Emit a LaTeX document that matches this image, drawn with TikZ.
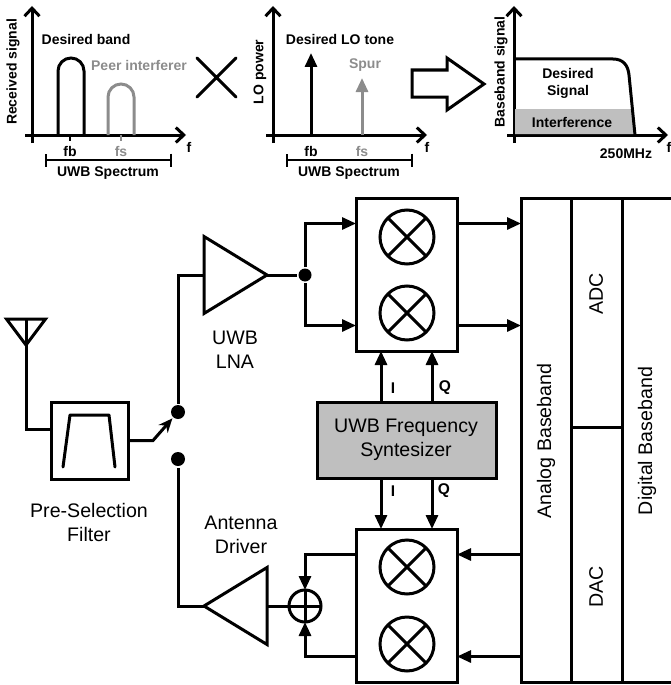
\documentclass[tikz,border=0pt]{standalone}
\usepackage{fontspec}
\setmainfont{Liberation Sans}
\usepackage{xcolor}
\usepackage{tikz}
\usetikzlibrary{shapes.geometric,arrows.meta,positioning,calc}
\definecolor{peergray}{RGB}{140,140,140}
\definecolor{boxgray}{RGB}{191,191,191}

\begin{document}
\begin{tikzpicture}[x=1pt,y=-1pt,line width=3pt,node distance=0pt]
  \tikzset{blocklabel/.style={font=\fontsize{19.6}{24}\selectfont,align=center,inner sep=0pt}}
  \tikzset{plotlabel/.style={font=\fontsize{14}{17}\selectfont\bfseries,align=center,inner sep=0pt}}
  \tikzset{iqlabel/.style={font=\fontsize{15.5}{17}\selectfont\bfseries,inner sep=0pt}}
  \tikzset{block/.style={draw,rectangle,outer sep=0pt,inner sep=0pt,minimum width=#1}}
  \tikzset{mixer/.style={draw,circle,outer sep=0pt,inner sep=0pt,minimum size=54pt}}
  \tikzset{amp/.style={draw,isosceles triangle,isosceles triangle stretches,outer sep=0pt,inner sep=0pt,minimum width=77pt,minimum height=63pt}}
  \tikzset{dot/.style={circle,fill=black,inner sep=0pt,minimum size=14pt}}
  \tikzset{sig/.style={-{Triangle[length=14pt,width=12pt]}}}
  \tikzset{axisline/.style={-{Straight Barb[length=8pt,width=15pt]}}}
  \useasboundingbox (0,0) rectangle (671,685);

  % spectra on top
  \foreach \ox/\ex in {32/186,273/427,514/668}{
    \draw[axisline] (\ox,143) -- (\ox,6);
    \draw[axisline] (\ox-7,135) -- (\ex,135);
  }
  \foreach \ox/\ex in {45/172,286/413}
    \draw[line width=2pt,{Bar[width=13pt]}-{Bar[width=13pt]}] (\ox,160) -- (\ex,160);
  \draw[line width=1.5pt] (70,135) -- (70,141);
  \draw[line width=1.5pt,peergray] (121,135) -- (121,141);
  \draw[rounded corners=13pt] (58,135) -- (58,58) -- (84,58) -- (84,135);
  \draw[rounded corners=13pt,peergray] (108,135) -- (108,84) -- (134,84) -- (134,135);
  \draw[line cap=round] (197,58) -- (236,97) (236,58) -- (197,97);
  \draw[sig] (311,135) -- (311,53);
  \draw[sig,peergray] (362,135) -- (362,78);
  \draw[miter limit=10] (412,70) -- (447,70) -- (447,58) -- (484,84) -- (447,110) -- (447,97) -- (412,97) -- cycle;
  \fill[boxgray] (515,109) -- (632,109) -- (635,134) -- (515,134) -- cycle;
  \draw (514,59) -- (613,59) .. controls (623,59) and (628,65) .. (629,75) -- (635,135);

  \node[plotlabel,rotate=90] (rxlabel) at (13,72) {Received signal};
  \node[plotlabel,rotate=90] (lolabel) at (260,72) {LO power};
  \node[plotlabel,rotate=90] (bblabel) at (501,72) {Baseband signal};
  \node[plotlabel] (bandlabel) at (86,39) {Desired band};
  \node[plotlabel,peergray] (peerlabel) at (139,65) {Peer interferer};
  \node[plotlabel] (tonelabel) at (340,39) {Desired LO tone};
  \node[plotlabel,peergray] (spurlabel) at (365,65) {Spur};
  \node[plotlabel] (fba) at (70,151) {fb};
  \node[plotlabel,peergray] (fsa) at (121,151) {fs};
  \node[plotlabel] (fbb) at (311,151) {fb};
  \node[plotlabel,peergray] (fsb) at (362,151) {fs};
  \node[plotlabel] (fa) at (189,147) {f};
  \node[plotlabel] (fb) at (427,147) {f};
  \node[plotlabel] (fc) at (669,147) {f};
  \node[plotlabel] (uwba) at (108,173) {UWB Spectrum};
  \node[plotlabel] (uwbb) at (349,173) {UWB Spectrum};
  \node[plotlabel] (wanted) at (568,83) {Desired\\Signal};
  \node[plotlabel] (interf) at (572,122) {Interference};
  \node[plotlabel] (bwlabel) at (626,154) {250MHz};

  % transceiver blocks
  \node[draw,isosceles triangle,isosceles triangle stretches,outer sep=0pt,inner sep=0pt,minimum width=39pt,minimum height=26pt,shape border rotate=-90,anchor=apex] (ant) at (26,345) {};
  \node[block=77pt,minimum height=77pt] (filter) at (89.5,440.5) {};
  \node[dot] (swup) at (178,412) {};
  \node[dot] (swdown) at (178,459) {};
  \coordinate (swbend) at (153,440.5);
  \node[amp,anchor=lower side] (lna) at (204,275) {};
  \node[dot,minimum size=13pt] (lnadot) at (305,275) {};
  \node[amp,shape border rotate=180,anchor=lower side] (driver) at (267,606) {};
  \node[draw,circle,outer sep=0pt,inner sep=0pt,minimum size=32pt] (adder) at (305,606) {};
  \node[block=101pt,minimum height=153pt] (upbox) at (406.5,274.5) {};
  \node[block=101pt,minimum height=153pt] (dnbox) at (406.5,605.5) {};
  \node[block=179pt,minimum height=76pt,fill=boxgray] (synth) at (406.5,440) {};
  \node[block=50pt,minimum height=484pt,anchor=north west] (analog) at (521,198) {};
  \node[block=51pt,minimum height=229pt,right=0pt of analog.north east,anchor=north west] (adc) {};
  \node[block=51pt,minimum height=255pt,below=0pt of adc] (dac) {};
  \node[minimum width=49pt,minimum height=484pt,inner sep=0pt,outer sep=0pt,right=0pt of adc.north east,anchor=north west] (digital) {};
  \draw (adc.north east) -- (digital.north east);
  \draw (dac.south east) -- (digital.south east);
  \foreach \mx/\py in {mixa/237,mixb/313,mixc/567,mixd/644}{
    \node[mixer] (\mx) at (407,\py) {};
    \draw (\mx.45) -- (\mx.225) (\mx.135) -- (\mx.315);
  }
  \draw (adder.north) -- (adder.south) (adder.west) -- (adder.east);

  \coordinate (upina) at ([yshift=51pt]upbox.west);
  \coordinate (upinb) at ([yshift=-51pt]upbox.west);
  \coordinate (upouta) at ([yshift=51pt]upbox.east);
  \coordinate (upoutb) at ([yshift=-51pt]upbox.east);
  \coordinate (dnina) at ([yshift=51pt]dnbox.east);
  \coordinate (dninb) at ([yshift=-51pt]dnbox.east);
  \coordinate (dnouta) at ([yshift=51pt]dnbox.west);
  \coordinate (dnoutb) at ([yshift=-51pt]dnbox.west);

  % wires
  \draw (ant.lower side) |- ([yshift=11.5pt]filter.west);
  \draw[-{Stealth[length=14pt,width=12pt]}] (filter.east) -- (swbend) -- (swup);
  \draw (swup) |- (lna.lower side);
  \draw (lna.apex) -- (lnadot);
  \draw[sig] (lnadot) |- (upina);
  \draw[sig] (lnadot) |- (upinb);
  \draw[sig] (upouta) -- (upouta -| analog.west);
  \draw[sig] (upoutb) -- (upoutb -| analog.west);
  \draw[sig] (dnina -| analog.west) -- (dnina);
  \draw[sig] (dninb -| analog.west) -- (dninb);
  \draw[sig] (dnouta) -| (adder.north);
  \draw[sig] (dnoutb) -| (adder.south);
  \draw (adder) -- (driver.lower side);
  \draw (driver.apex) -| (swdown);
  \foreach \qx in {-25.5,25.5}{
    \draw[sig] ([xshift=\qx pt]synth.north) -- ([xshift=\qx pt]upbox.south);
    \draw[sig] ([xshift=\qx pt]synth.south) -- ([xshift=\qx pt]dnbox.north);
  }

  % filter mask
  \draw[line cap=round,line join=round] (63,467) -- (70,415) -- (109,415) -- (115,467);

  \node[blocklabel] (lnalabel) at (235,350) {UWB\\LNA};
  \node[blocklabel] (filterlabel) at (89,522) {Pre-Selection\\Filter};
  \node[blocklabel] (driverlabel) at (241,535) {Antenna\\Driver};
  \node[blocklabel] (synthlabel) at (406,440) {UWB Frequency\\Syntesizer};
  \node[blocklabel,rotate=90] (analoglabel) at (546,441) {Analog Baseband};
  \node[blocklabel,rotate=90] (adclabel) at (596,294) {ADC};
  \node[blocklabel,rotate=90] (daclabel) at (596,587) {DAC};
  \node[blocklabel,rotate=90] (digitallabel) at (647,441) {Digital Baseband};
  \node[iqlabel] (ilabela) at (393,388) {I};
  \node[iqlabel] (qlabela) at (445,388) {Q};
  \node[iqlabel] (ilabelb) at (393,491) {I};
  \node[iqlabel] (qlabelb) at (444,491) {Q};
\end{tikzpicture}
\end{document}
